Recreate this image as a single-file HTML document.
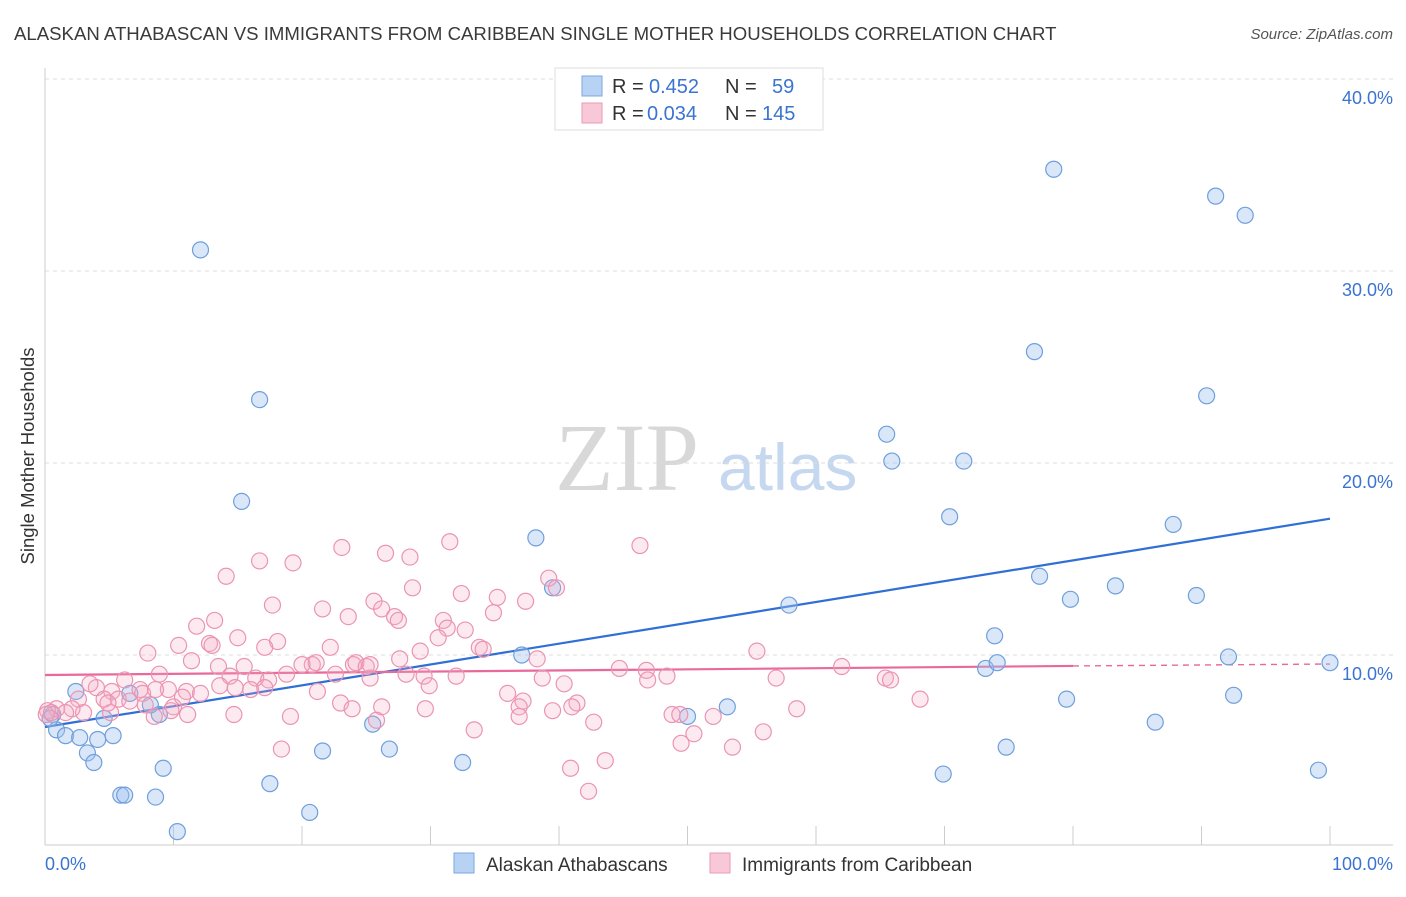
<!DOCTYPE html>
<html><head><meta charset="utf-8"><style>
body{margin:0;background:#fff;font-family:"Liberation Sans",sans-serif}
</style></head><body>
<svg id="chart" width="1406" height="892" xmlns="http://www.w3.org/2000/svg">
<text x="14" y="40" font-size="18.6" fill="#3a3a3a">ALASKAN ATHABASCAN VS IMMIGRANTS FROM CARIBBEAN SINGLE MOTHER HOUSEHOLDS CORRELATION CHART</text>
<text x="1393" y="39" font-size="15" fill="#555" font-style="italic" text-anchor="end">Source: ZipAtlas.com</text>
<text transform="translate(34,456) rotate(-90)" font-size="18.5" fill="#333" text-anchor="middle">Single Mother Households</text>
<g>
<text x="555" y="490" font-size="96" font-family="Liberation Serif,serif" fill="#d8d8d8">ZIP</text>
<text x="718" y="490" font-size="66" fill="#c5d8f0">atlas</text>
</g>
<g id="grid"></g><g id="axes"></g><g id="trends"></g><g id="points"></g>
<g>
<rect x="555" y="68" width="268" height="62" fill="#fff" stroke="#ddd"/>
<rect x="582" y="76" width="20" height="20" fill="#b8d2f4" stroke="#7aa8e0"/>
<rect x="582" y="103" width="20" height="20" fill="#f9c8d8" stroke="#eb9ab5"/>
<text x="612" y="93" font-size="20" fill="#333">R =</text>
<text x="649" y="93" font-size="20" fill="#3a74d0">0.452</text>
<text x="725" y="93" font-size="20" fill="#333">N =</text>
<text x="772" y="93" font-size="20" fill="#3a74d0">59</text>
<text x="612" y="120" font-size="20" fill="#333">R =</text>
<text x="647" y="120" font-size="20" fill="#3a74d0">0.034</text>
<text x="725" y="120" font-size="20" fill="#333">N =</text>
<text x="762" y="120" font-size="20" fill="#3a74d0">145</text>
</g>
<g>
<rect x="454" y="853" width="20" height="20" fill="#b8d2f4" stroke="#7aa8e0"/>
<text x="486" y="871" font-size="19" fill="#333">Alaskan Athabascans</text>
<rect x="710" y="853" width="20" height="20" fill="#f9c8d8" stroke="#eb9ab5"/>
<text x="742" y="871" font-size="19" fill="#333">Immigrants from Caribbean</text>
</g>
</svg>
<script>
const yTicks=[10,20,30,40];
const yTickLabels=["10.0%","20.0%","30.0%","40.0%"];
const xTicks=[0,10,20,30,40,50,60,70,80,90,100];
const blueX=[12.1,16.7,15.3,38.2,78.5,91.1,93.4,77.0,90.4,65.5,65.9,71.5,70.4,87.8,77.4,79.8,83.3,89.6,57.9,73.9,73.2,74.1,92.1,100.0,79.5,92.5,86.4,53.1,50.0,37.1,39.5,2.4,0.6,0.9,1.6,2.7,4.1,5.3,3.3,3.8,4.6,6.6,8.9,8.2,9.2,5.9,6.2,8.6,10.3,17.5,20.6,21.6,26.8,25.5,32.5,69.9,74.8,99.1,0.4];
const blueY=[31.1,23.3,18.0,16.1,35.3,33.9,32.9,25.8,23.5,21.5,20.1,20.1,17.2,16.8,14.1,12.9,13.6,13.1,12.6,11.0,9.3,9.6,9.9,9.6,7.7,7.9,6.5,7.3,6.8,10.0,13.5,8.1,6.9,6.1,5.8,5.7,5.6,5.8,4.9,4.4,6.7,8.0,6.9,7.4,4.1,2.7,2.7,2.6,0.8,3.3,1.8,5.0,5.1,6.4,4.4,3.8,5.2,4.0,6.7];
const pinkX=[23.1,31.5,46.3,16.7,19.3,26.5,28.4,14.1,39.2,28.6,39.8,17.7,21.6,23.6,25.6,26.2,27.2,27.5,32.4,35.2,37.4,34.9,13.2,11.8,31.0,31.3,32.7,30.6,15.0,12.8,10.4,13.0,18.1,22.2,33.8,34.1,8.0,17.1,20.8,21.1,24.0,24.2,25.0,25.3,27.6,29.2,29.5,28.1,13.5,15.5,11.4,8.9,14.4,16.4,17.4,18.8,20.0,22.6,25.3,32.0,38.3,38.7,40.4,44.7,46.8,46.9,48.4,55.4,56.9,62.0,65.4,65.8,13.6,4.0,5.2,7.4,7.6,9.6,11.0,12.1,16.0,17.1,21.2,29.9,36.0,2.6,4.6,5.7,6.6,3.0,2.1,0.9,0.2,0.1,0.5,1.6,5.1,10.0,9.8,10.7,7.8,23.0,23.9,26.2,29.6,37.2,36.9,41.4,41.0,39.5,42.7,48.8,49.4,52.0,58.5,68.1,14.7,19.1,8.5,33.4,36.9,25.8,50.5,49.5,53.5,55.9,18.4,40.9,43.6,42.3,4.9,3.5,6.2,8.6,11.1,14.8];
const pinkY=[15.6,15.9,15.7,14.9,14.8,15.3,15.1,14.1,14.0,13.5,13.5,12.6,12.4,12.0,12.8,12.4,12.0,11.8,13.2,13.0,12.8,12.2,11.8,11.5,11.8,11.4,11.3,10.9,10.9,10.6,10.5,10.5,10.7,10.4,10.4,10.3,10.1,10.4,9.5,9.6,9.5,9.6,9.4,9.5,9.8,10.2,8.9,9.0,9.4,9.4,9.7,9.0,8.9,8.8,8.7,9.0,9.5,9.0,8.8,8.9,9.8,8.8,8.5,9.3,9.2,8.7,8.9,10.2,8.8,9.4,8.8,8.7,8.4,8.3,8.1,8.2,8.0,8.2,8.1,8.0,8.2,8.3,8.1,8.4,8.0,7.7,7.7,7.7,7.6,7.0,7.2,7.2,7.1,6.9,7.0,7.0,7.0,7.3,7.1,7.8,7.4,7.5,7.2,7.3,7.2,7.6,7.3,7.5,7.3,7.1,6.5,6.9,6.9,6.8,7.2,7.7,6.9,6.8,6.8,6.1,6.8,6.6,5.9,5.4,5.2,6.0,5.1,4.1,4.5,2.9,7.5,8.5,8.7,8.2,6.9,8.3];
const blueTrendX=[0,100];
const blueTrendY=[6.25,17.1];
const pinkTrendX=[0,80,100];
const pinkTrendY=[8.96,9.43,9.53];

const NS="http://www.w3.org/2000/svg";
const X0=45,X1=1330,Y0=847,PX=19.2;
const xs=v=>X0+(X1-X0)*v/100;
const ys=v=>Y0-v*PX;
function mk(tag,attrs,parent){const e=document.createElementNS(NS,tag);for(const k in attrs)e.setAttribute(k,attrs[k]);document.getElementById(parent).appendChild(e);return e;}

yTicks.forEach((t,i)=>{
  const g=mk('line',{x1:45,x2:1393,y1:ys(t),y2:ys(t),stroke:'#ddd','stroke-dasharray':'4,4'},'grid');
  
  
  const l=mk('text',{x:1393,y:ys(t)+25,'font-size':18,fill:'#3a74d0','text-anchor':'end'},'grid');
  l.textContent=yTickLabels[i];
  
  
});
const ya=mk('line',{x1:45,x2:45,y1:68,y2:845,stroke:'#ccc'},'axes');


const xa=mk('line',{x1:45,x2:1393,y1:845,y2:845,stroke:'#ccc'},'axes');


xTicks.forEach(t=>{
  const tk=mk('line',{x1:xs(t),x2:xs(t),y1:826,y2:845,stroke:'#ccc'},'axes');
  
  
});
const xl0=mk('text',{x:45,y:870,'font-size':18,fill:'#3a74d0'},'axes');xl0.textContent='0.0%';


const xl1=mk('text',{x:1393,y:870,'font-size':18,fill:'#3a74d0','text-anchor':'end'},'axes');xl1.textContent='100.0%';



blueX.forEach((v,i)=>{
  const c=mk('circle',{cx:xs(v),cy:ys(blueY[i]),r:8,fill:'rgba(160,196,240,0.4)',stroke:'#6f9fdc','stroke-width':1.2},'points');
  
  
});
pinkX.forEach((v,i)=>{
  const c=mk('circle',{cx:xs(v),cy:ys(pinkY[i]),r:8,fill:'rgba(245,170,195,0.25)',stroke:'#eb94b2','stroke-width':1.2},'points');
  
  
});
const bt=mk('line',{x1:xs(blueTrendX[0]),y1:ys(blueTrendY[0]),x2:xs(blueTrendX[1]),y2:ys(blueTrendY[1]),stroke:'#2f6fd6','stroke-width':2.2},'trends');


const pt=mk('line',{x1:xs(pinkTrendX[0]),y1:ys(pinkTrendY[0]),x2:xs(pinkTrendX[1]),y2:ys(pinkTrendY[1]),stroke:'#e8699a','stroke-width':2.2},'trends');


const pd=mk('line',{x1:xs(pinkTrendX[1]),y1:ys(pinkTrendY[1]),x2:xs(pinkTrendX[2]),y2:ys(pinkTrendY[2]),stroke:'#e8699a','stroke-width':1.4,'stroke-dasharray':'6,5'},'trends');


</script>
</body></html>
